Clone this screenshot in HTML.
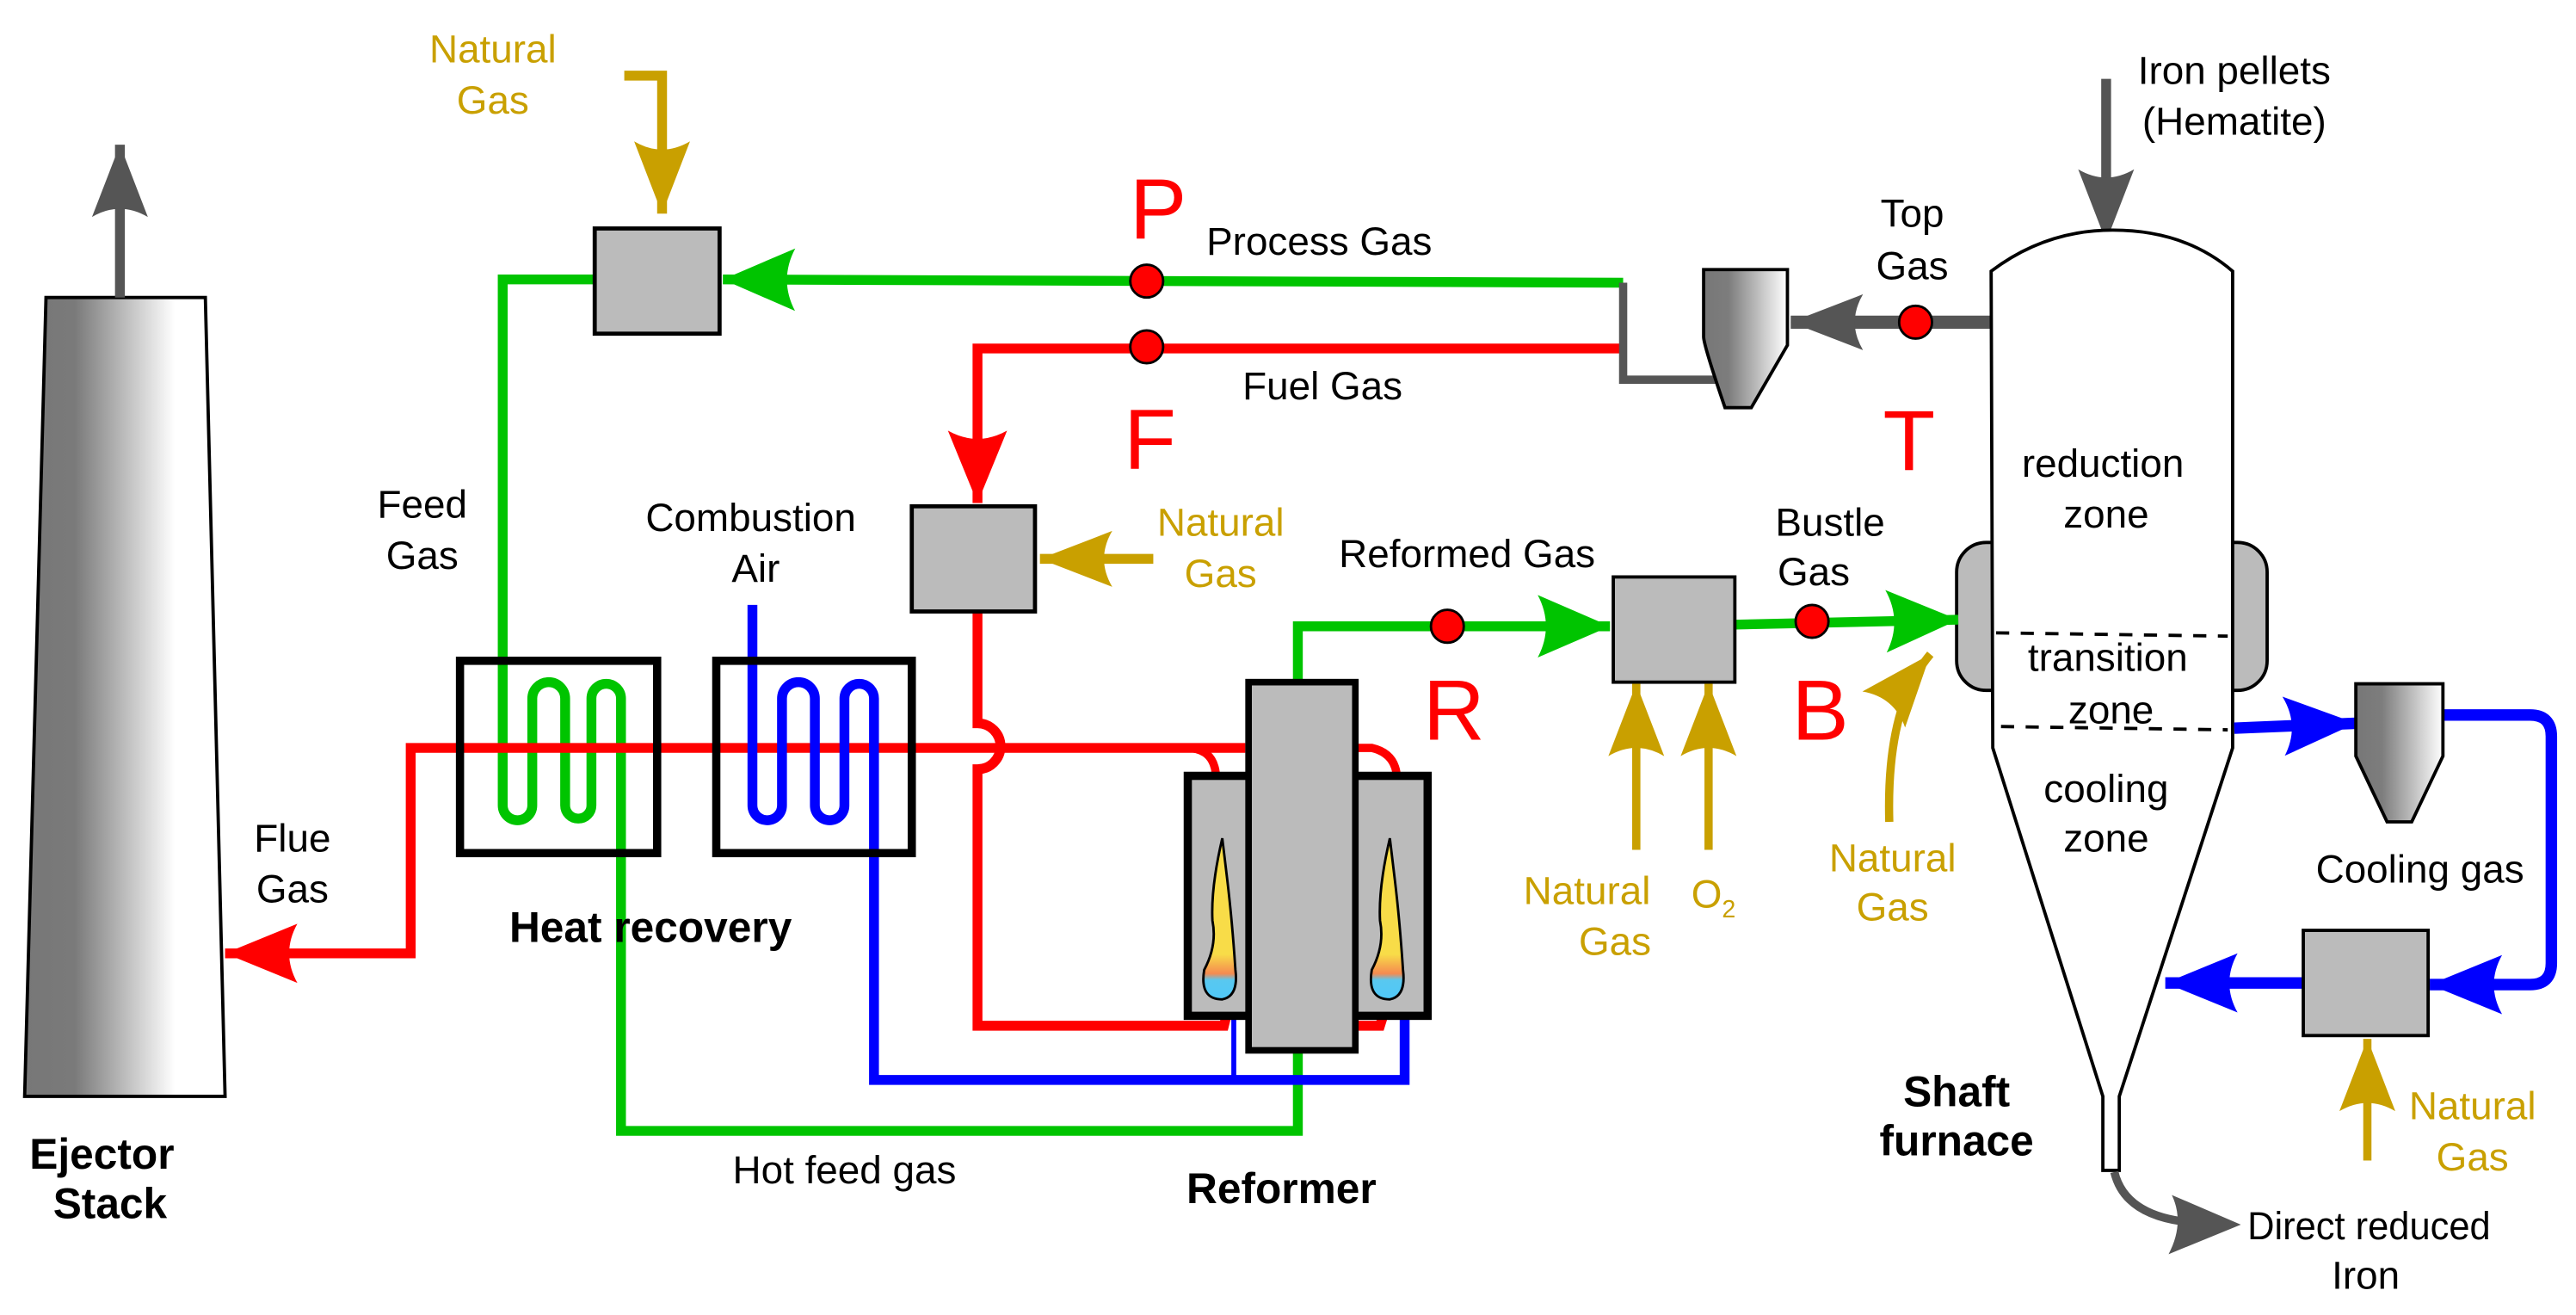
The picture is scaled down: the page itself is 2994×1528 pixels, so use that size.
<!DOCTYPE html>
<html><head><meta charset="utf-8"><style>html,body{margin:0;padding:0;background:#fff}svg{display:block}</style></head>
<body>
<svg width="2994" height="1528" viewBox="0 0 1568 800" preserveAspectRatio="none" xmlns="http://www.w3.org/2000/svg">
<defs>
<linearGradient id="gs" x1="0" x2="1" y1="0" y2="0"><stop offset="0" stop-color="#777"/><stop offset="0.25" stop-color="#7a7a7a"/><stop offset="0.75" stop-color="#fff"/><stop offset="1" stop-color="#fff"/></linearGradient>
<linearGradient id="gc" x1="0" x2="1" y1="0" y2="0"><stop offset="0" stop-color="#777"/><stop offset="0.3" stop-color="#7d7d7d"/><stop offset="1" stop-color="#fff"/></linearGradient>
<linearGradient id="gf" x1="0" x2="0" y1="0" y2="1"><stop offset="0" stop-color="#f8dc48"/><stop offset="0.72" stop-color="#f8dc48"/><stop offset="0.84" stop-color="#f58a50"/><stop offset="0.88" stop-color="#58c8f0"/><stop offset="1" stop-color="#50c8f8"/></linearGradient>
<marker id="mg" markerUnits="userSpaceOnUse" markerWidth="50" markerHeight="40" refX="44" refY="20" orient="auto" overflow="visible"><path d="M44,20 L0,1 Q10,20 0,39 Z" fill="#00c400"/></marker>
<marker id="mr" markerUnits="userSpaceOnUse" markerWidth="50" markerHeight="40" refX="44" refY="20" orient="auto" overflow="visible"><path d="M44,20 L0,2 Q10,20 0,38 Z" fill="#ff0000"/></marker>
<marker id="mb" markerUnits="userSpaceOnUse" markerWidth="50" markerHeight="40" refX="44" refY="20" orient="auto" overflow="visible"><path d="M44,20 L0,2 Q10,20 0,38 Z" fill="#0000ff"/></marker>
<marker id="my" markerUnits="userSpaceOnUse" markerWidth="50" markerHeight="40" refX="44" refY="20" orient="auto" overflow="visible"><path d="M44,20 L0,3 Q10,20 0,37 Z" fill="#c9a000"/></marker>
<marker id="mk" markerUnits="userSpaceOnUse" markerWidth="50" markerHeight="40" refX="44" refY="20" orient="auto" overflow="visible"><path d="M44,20 L0,3 Q10,20 0,37 Z" fill="#555"/></marker>
</defs>

<path d="M28,181 L125,181 L137,667 L15,667 Z" fill="url(#gs)" stroke="#000" stroke-width="2"/>
<line x1="73" y1="181" x2="73" y2="88" stroke="#555" stroke-width="6" marker-end="url(#mk)"/>

<path d="M380,46 H403 V130" fill="none" stroke="#c9a000" stroke-width="6" marker-end="url(#my)"/>

<path d="M988,172 L440,170" fill="none" stroke="#00c400" stroke-width="6" marker-end="url(#mg)"/>
<path d="M362,170 H306 V490 A9,9 0 0 0 324,490 V425 A10,10 0 0 1 344,425 V490 A8,8 0 0 0 360,490 V425 A9,9 0 0 1 378,425 V688 H790 V640" fill="none" stroke="#00c400" stroke-width="6"/>
<path d="M988,212 H595 V306" fill="none" stroke="#ff0000" stroke-width="6" marker-end="url(#mr)"/>
<path d="M988,172 V231 H1050" fill="none" stroke="#555" stroke-width="5"/>
<line x1="1212" y1="196" x2="1090" y2="196" stroke="#555" stroke-width="8" marker-end="url(#mk)"/>
<path d="M1037,164 H1088 V210 L1066,248 H1050 Q1037,210 1037,205 Z" fill="url(#gc)" stroke="#000" stroke-width="2"/>

<line x1="1282" y1="48" x2="1282" y2="147" stroke="#555" stroke-width="6" marker-end="url(#mk)"/>

<rect x="1191" y="330" width="40" height="90" rx="18" fill="#bbb" stroke="#000" stroke-width="2"/>
<rect x="1340" y="330" width="40" height="90" rx="18" fill="#bbb" stroke="#000" stroke-width="2"/>
<path d="M1212,165 Q1245,140 1286,140 Q1330,140 1359,165 L1359,455 L1290,667 L1290,712 L1280,712 L1280,667 L1213,455 Z" fill="#fff" stroke="#000" stroke-width="2"/>
<line x1="1215" y1="385" x2="1356" y2="387" stroke="#000" stroke-width="2" stroke-dasharray="8,7"/>
<line x1="1218" y1="442" x2="1356" y2="444" stroke="#000" stroke-width="2" stroke-dasharray="8,7"/>

<path d="M790,415 V381 H980" fill="none" stroke="#00c400" stroke-width="6" marker-end="url(#mg)"/>
<line x1="1056" y1="380" x2="1192" y2="377" stroke="#00c400" stroke-width="6" marker-end="url(#mg)"/>
<rect x="982" y="351" width="74" height="64" fill="#bbb" stroke="#000" stroke-width="2"/>
<line x1="996" y1="517" x2="996" y2="416" stroke="#c9a000" stroke-width="5" marker-end="url(#my)"/>
<line x1="1040" y1="517" x2="1040" y2="416" stroke="#c9a000" stroke-width="5" marker-end="url(#my)"/>
<path d="M1150,500 Q1148,430 1175,398" fill="none" stroke="#c9a000" stroke-width="5" marker-end="url(#my)"/>

<line x1="1360" y1="443" x2="1434" y2="440" stroke="#0000ff" stroke-width="7" marker-end="url(#mb)"/>
<path d="M1487,435 H1540 Q1553,435 1553,448 V586 Q1553,599 1540,599 H1479" fill="none" stroke="#0000ff" stroke-width="7" marker-end="url(#mb)"/>
<line x1="1402" y1="598" x2="1318" y2="598" stroke="#0000ff" stroke-width="7" marker-end="url(#mb)"/>
<path d="M1434,416 H1487 V460 L1468,500 H1453 L1434,460 Z" fill="url(#gc)" stroke="#000" stroke-width="2"/>
<rect x="1402" y="566" width="76" height="64" fill="#bbb" stroke="#000" stroke-width="2"/>
<line x1="1441" y1="706" x2="1441" y2="632" stroke="#c9a000" stroke-width="5" marker-end="url(#my)"/>
<!-- DRI -->
<path d="M1287,713 Q1293,738 1328,743" fill="none" stroke="#555" stroke-width="5"/>
<path d="M1364,745 L1322,727 Q1330,744 1320,763 Z" fill="#555"/>

<line x1="702" y1="340" x2="633" y2="340" stroke="#c9a000" stroke-width="6" marker-end="url(#my)"/>

<path d="M758,455 H250 V580 H137" fill="none" stroke="#ff0000" stroke-width="6" marker-end="url(#mr)"/>
<path d="M595,372 V440 A14,14 0 0 1 595,468 V624 H745 L749,608" fill="none" stroke="#ff0000" stroke-width="6"/>
<path d="M826,624 H840 L845,608" fill="none" stroke="#ff0000" stroke-width="6"/>
<path d="M722,455 Q738,455 740,470" fill="none" stroke="#ff0000" stroke-width="5"/>
<path d="M826,455 H835 Q848,458 850,470" fill="none" stroke="#ff0000" stroke-width="5"/>
<path d="M458,368 V490 A9,9 0 0 0 476,490 V425 A10,10 0 0 1 496,425 V490 A9,9 0 0 0 514,490 V425 A9,9 0 0 1 532,425 V657 H855 V610" fill="none" stroke="#0000ff" stroke-width="6"/>
<line x1="751" y1="610" x2="751" y2="657" stroke="#0000ff" stroke-width="3"/>
<line x1="855" y1="610" x2="855" y2="657" stroke="#0000ff" stroke-width="3"/>

<rect x="362" y="139" width="76" height="64" fill="#bbb" stroke="#000" stroke-width="2.5"/>
<rect x="555" y="308" width="75" height="64" fill="#bbb" stroke="#000" stroke-width="2.5"/>
<rect x="280" y="402" width="120" height="117" fill="none" stroke="#000" stroke-width="5"/>
<rect x="436" y="402" width="119" height="117" fill="none" stroke="#000" stroke-width="5"/>

<rect x="723" y="472" width="146" height="146" fill="#bbb" stroke="#000" stroke-width="5"/>
<path d="M744,510 Q737,540 738,560 Q741,575 733,590 Q730,608 744,608 Q754,606 752,590 Q750,560 747,535 Z" fill="url(#gf)" stroke="#000" stroke-width="1.5"/>
<path d="M846,510 Q839,540 840,560 Q843,575 835,590 Q832,608 846,608 Q856,606 854,590 Q852,560 849,535 Z" fill="url(#gf)" stroke="#000" stroke-width="1.5"/>
<rect x="760" y="415" width="65" height="224" fill="#bbb" stroke="#000" stroke-width="4"/>

<g fill="#ff0000" stroke="#000" stroke-width="1.5">
<circle cx="698" cy="171" r="10"/><circle cx="698" cy="211" r="10"/><circle cx="1166" cy="196" r="10"/>
<circle cx="881" cy="381" r="10"/><circle cx="1103" cy="378" r="10"/>
</g>

<g font-family="'Liberation Sans Narrow','Liberation Sans',sans-serif" font-size="24" text-anchor="middle" fill="#000">
<text x="803" y="155">Process Gas</text>
<text x="805" y="243">Fuel Gas</text>
<text x="1164" y="138">Top</text><text x="1164" y="170">Gas</text>
<text x="1360" y="51">Iron pellets</text><text x="1360" y="82">(Hematite)</text>
<text x="1280" y="290">reduction</text><text x="1282" y="321">zone</text>
<text x="1283" y="408">transition</text><text x="1285" y="440">zone</text>
<text x="1282" y="488">cooling</text><text x="1282" y="518">zone</text>
<text x="893" y="345">Reformed Gas</text>
<text x="1114" y="326">Bustle</text><text x="1104" y="356">Gas</text>
<text x="1473" y="537">Cooling gas</text>
<text x="1442" y="754" textLength="148" lengthAdjust="spacingAndGlyphs">Direct reduced</text><text x="1440" y="784">Iron</text>
<text x="257" y="315">Feed</text><text x="257" y="346">Gas</text>
<text x="457" y="323">Combustion</text><text x="460" y="354">Air</text>
<text x="178" y="518">Flue</text><text x="178" y="549">Gas</text>
<text x="514" y="720">Hot feed gas</text>
</g>
<g font-family="'Liberation Sans Narrow','Liberation Sans',sans-serif" font-size="24" text-anchor="middle" fill="#c9a000">
<text x="300" y="38">Natural</text><text x="300" y="69">Gas</text>
<text x="743" y="326">Natural</text><text x="743" y="357">Gas</text>
<text x="966" y="550">Natural</text><text x="983" y="581">Gas</text>
<text x="1043" y="552">O<tspan font-size="15" dy="6">2</tspan></text>
<text x="1152" y="530">Natural</text><text x="1152" y="560">Gas</text>
<text x="1505" y="681">Natural</text><text x="1505" y="712">Gas</text>
</g>
<g font-family="'Liberation Sans',sans-serif" font-size="52" text-anchor="middle" fill="#ff0000">
<text x="705" y="145">P</text><text x="700" y="285">F</text><text x="1162" y="286">T</text>
<text x="885" y="450">R</text><text x="1108" y="450">B</text>
</g>
<g font-family="'Liberation Sans',sans-serif" font-size="26" font-weight="bold" text-anchor="middle" fill="#000">
<text x="62" y="711">Ejector</text><text x="67" y="741">Stack</text>
<text x="396" y="573">Heat recovery</text>
<text x="780" y="732">Reformer</text>
<text x="1191" y="673">Shaft</text><text x="1191" y="703">furnace</text>
</g>
</svg>
</body></html>
